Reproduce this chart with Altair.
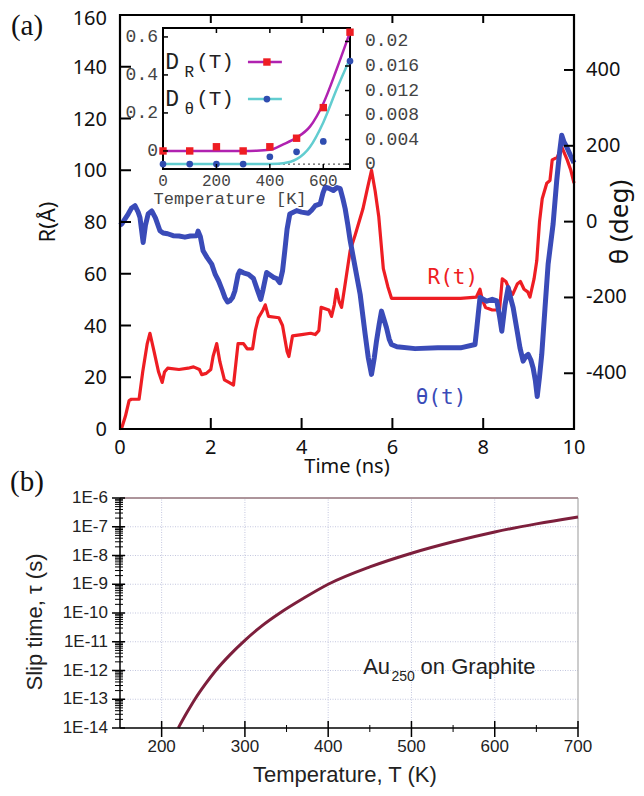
import altair as alt
import pandas as pd

# ---------------- Panel (a): trajectories (time in ns) ----------------
R_trace = [(0.0, 0), (0.04, 0.5), (0.12, 5), (0.2, 11), (0.25, 11.5), (0.42, 11.5), (0.5, 22), (0.6, 33),
           (0.66, 37), (0.75, 30), (0.85, 22), (0.93, 18), (0.98, 22), (1.05, 23.5), (1.3, 23), (1.5, 23.5),
           (1.62, 24), (1.75, 23), (1.8, 21), (1.9, 21.5), (2.0, 23), (2.05, 28), (2.13, 33), (2.2, 26),
           (2.3, 19), (2.4, 18), (2.5, 17), (2.55, 25), (2.6, 33), (2.72, 33), (2.8, 31), (2.92, 31),
           (2.98, 38), (3.05, 43), (3.15, 46), (3.2, 48), (3.27, 43.5), (3.5, 43), (3.58, 40), (3.68, 30),
           (3.72, 28), (3.8, 36), (4.0, 36.5), (4.2, 37), (4.3, 36.5), (4.38, 38), (4.43, 47), (4.6, 46),
           (4.66, 43.5), (4.72, 48), (4.77, 54), (4.83, 49), (4.88, 47), (4.95, 55), (5.07, 69), (5.18, 75),
           (5.35, 85), (5.45, 93), (5.54, 100), (5.62, 92), (5.7, 82), (5.8, 62), (5.9, 55), (5.98, 50.5),
           (6.3, 50.5), (6.7, 50.5), (7.1, 50.5), (7.5, 50.5), (7.85, 51), (7.93, 54), (7.98, 50), (8.05, 47),
           (8.2, 46), (8.36, 46), (8.42, 58), (8.5, 57), (8.6, 53), (8.65, 52), (8.75, 56), (8.82, 57),
           (8.9, 54), (8.98, 53), (9.03, 51), (9.12, 58), (9.18, 65), (9.24, 80), (9.3, 89), (9.4, 95),
           (9.47, 96), (9.52, 104), (9.63, 105), (9.73, 109), (9.85, 104), (9.93, 100), (10.0, 95)]

theta_trace = [(0.0, -10), (0.04, -6), (0.1, 5), (0.18, 20), (0.25, 35), (0.33, 42), (0.4, 25), (0.44, 11),
               (0.51, -55), (0.56, -10), (0.62, 20), (0.7, 28), (0.78, 10), (0.88, -24), (0.95, -30),
               (1.05, -32), (1.17, -37), (1.3, -38), (1.43, -41), (1.55, -38), (1.69, -37), (1.72, -25),
               (1.77, -40), (1.83, -77), (1.92, -95), (2.02, -112), (2.1, -140), (2.17, -156), (2.25, -180),
               (2.31, -200), (2.37, -212), (2.42, -209), (2.48, -200), (2.53, -183), (2.6, -140), (2.64, -130),
               (2.72, -135), (2.83, -139), (2.94, -150), (3.02, -178), (3.1, -205), (3.15, -180), (3.23, -134),
               (3.3, -140), (3.38, -147), (3.45, -150), (3.52, -161), (3.58, -130), (3.63, -77), (3.68, -20),
               (3.74, 20), (3.89, 29), (4.0, 25), (4.15, 22), (4.22, 30), (4.3, 42), (4.41, 47), (4.47, 75),
               (4.52, 91), (4.6, 88), (4.7, 82), (4.78, 90), (4.85, 87), (4.91, 60), (4.96, 34), (5.02, -10),
               (5.07, -50), (5.18, -121), (5.29, -192), (5.4, -297), (5.47, -360), (5.54, -403), (5.6, -360),
               (5.65, -315), (5.71, -270), (5.76, -236), (5.82, -260), (5.87, -280), (5.93, -310), (5.98, -324),
               (6.1, -330), (6.5, -335), (7.0, -333), (7.5, -333), (7.82, -324), (7.86, -280), (7.89, -245),
               (7.93, -200), (8.08, -210), (8.2, -205), (8.3, -209), (8.36, -250), (8.41, -289), (8.48, -220),
               (8.55, -174), (8.6, -200), (8.66, -227), (8.75, -290), (8.81, -333), (8.88, -368), (8.94, -355),
               (8.99, -350), (9.05, -365), (9.1, -386), (9.15, -420), (9.19, -461), (9.24, -410), (9.29, -350),
               (9.36, -230), (9.43, -112), (9.54, -6), (9.62, 109), (9.68, 180), (9.73, 228), (9.78, 210),
               (9.84, 197), (9.92, 175), (10.0, 155)]

R_tick_labels = [0, 20, 40, 60, 80, 100, 120, 140]
R_top_label = [160]
R_inner_ticks = [20, 40, 60, 80, 100, 120, 140]
time_tick_labels = [0, 2, 4, 6, 8, 10]
time_inner_ticks = [2, 4, 6, 8]
theta_tick_labels = [-400, -200, 0, 200, 400]

# ---------------- Inset: diffusion coefficients vs temperature ----------------
inset_T = [0, 100, 200, 300, 400, 500, 600, 700]
inset_DR = [0.0, 0.0, 0.022, 0.0, 0.022, 0.067, 0.228, 0.625]
inset_Dtheta = [0.0, 0.0, 0.0, 0.0, 0.0012, 0.002, 0.0037, 0.0168]
fit_T = [0, 100, 200, 300, 350, 400, 450, 500, 550, 600, 650, 700]
fit_DR = [0.0, 0.0, 0.0, 0.0, 0.001, 0.006, 0.035, 0.07, 0.128, 0.25, 0.43, 0.625]
fit_Dtheta = [0.0, 0.0, 0.0, 0.0, 0.0, 0.00003, 0.00015, 0.0008, 0.0028, 0.0068, 0.0122, 0.0172]
inset_T_labels = [0, 200, 400, 600]
inset_T_ticks = [200, 400, 600]
inset_L_labels = [0, 0.2, 0.4, 0.6]
inset_R_labels = [0, 0.004, 0.008, 0.012, 0.016, 0.02]
inset_R_text = ["0", "0.004", "0.008", "0.012", "0.016", "0.02"]

# ---------------- Panel (b): slip time ----------------
slip_T = [220, 230, 240, 252, 265, 282, 300, 320, 342, 370, 400, 450, 500, 550, 600, 650, 700]
slip_tau = [1e-14, 3.3e-14, 1e-13, 3.2e-13, 1e-12, 3.5e-12, 1.12e-11, 3.5e-11, 1e-10, 3.2e-10, 1e-9,
            4e-9, 1.2e-8, 3e-8, 6.6e-8, 1.26e-7, 2.2e-7]
b_T_major = [200, 300, 400, 500, 600, 700]
b_T_minor = [250, 350, 450, 550, 650]
b_T_grid = [200, 300, 400, 500, 600]
b_exponents = [-6, -7, -8, -9, -10, -11, -12, -13, -14]
b_grid_exponents = [-7, -8, -9, -10, -11, -12, -13]

# ---------------- styling ----------------
RED = "#ee1d23"
BLUE = "#3a4bb8"
MAGENTA = "#b022b0"
CYAN = "#62cdd0"
DOTBLUE = "#2f4db0"
WINE = "#7d1f3c"
GRID = "#c3c6de"
SANS = "Noto Sans"
ARIAL = "Liberation Sans"
MONO = "Liberation Mono"


def S(domain, rng, **kw):
    return alt.Scale(domain=domain, range=rng, nice=False, zero=False, **kw)


AX = S([0, 10], [112, 566])
AYR = S([0, 160], [421, 7])
AYT = S([-547, 545], [421, 7])
IX = S([0, 700], [155, 342])
IYL = S([-0.095, 0.647], [161, 20])
IYR = S([-0.0008, 0.0222], [161, 20])
BX = S([150, 700], [112, 570])
BY = alt.Scale(type="log", domain=[1e-14, 1e-6], range=[720, 490], nice=False)


def enc(sx, sy, fx="x", fy="y"):
    return dict(x=alt.X(f"{fx}:Q", scale=sx, axis=None), y=alt.Y(f"{fy}:Q", scale=sy, axis=None))


def text_layer(xs, ys, labels, sx, sy, **mk):
    d = pd.DataFrame({"x": xs, "y": ys, "label": labels})
    return alt.Chart(d).mark_text(**mk).encode(text="label:N", **enc(sx, sy))


def hticks(xval, yvals, sx, sy, **mk):
    d = pd.DataFrame({"x": [xval] * len(yvals), "y": yvals})
    return alt.Chart(d).mark_rule(**mk).encode(x2=alt.X2("x"), **enc(sx, sy))


def vticks(xvals, yval, sx, sy, **mk):
    d = pd.DataFrame({"x": xvals, "y": [yval] * len(xvals)})
    return alt.Chart(d).mark_rule(**mk).encode(y2=alt.Y2("y"), **enc(sx, sy))


def seg(x0, x1, y0, y1, sx, sy, **mk):
    d = pd.DataFrame({"x": [x0], "x2": [x1], "y": [y0], "y2": [y1]})
    return alt.Chart(d).mark_rule(**mk).encode(x2=alt.X2("x2"), y2=alt.Y2("y2"), **enc(sx, sy))


def ptext(label, px, py, **mk):
    return alt.Chart(pd.DataFrame({"label": [label]})).mark_text(**mk).encode(
        x=alt.value(px), y=alt.value(py), text="label:N")


layers = []

# ======== Panel (a) ========
dfR = pd.DataFrame(R_trace, columns=["x", "y"])
dfT = pd.DataFrame(theta_trace, columns=["x", "y"])
layers.append(alt.Chart(dfR).mark_line(color=RED, strokeWidth=3.2, strokeJoin="round").encode(**enc(AX, AYR)))
layers.append(alt.Chart(dfT).mark_line(color=BLUE, strokeWidth=5, strokeJoin="round").encode(**enc(AX, AYT)))

frameA = pd.DataFrame({"x": [0], "x2": [10], "y": [0], "y2": [160]})
layers.append(alt.Chart(frameA).mark_rect(fillOpacity=0, stroke="black", strokeWidth=2.2).encode(
    x2=alt.X2("x2"), y2=alt.Y2("y2"), **enc(AX, AYR)))
layers.append(hticks(0, R_inner_ticks, AX, AYR, color="black", strokeWidth=2, x2Offset=11))
layers.append(hticks(10, theta_tick_labels, AX, AYT, color="black", strokeWidth=2, x2Offset=-10))
layers.append(vticks(time_inner_ticks, 0, AX, AYR, color="black", strokeWidth=2, y2Offset=-11))
layers.append(vticks(time_inner_ticks, 160, AX, AYR, color="black", strokeWidth=2, y2Offset=8))

layers.append(text_layer([0] * len(R_tick_labels), R_tick_labels, [str(v) for v in R_tick_labels], AX, AYR,
                         font=SANS, fontSize=20, align="right", baseline="middle", dx=-13, dy=1, color="#111"))
layers.append(text_layer([0], R_top_label, [str(v) for v in R_top_label], AX, AYR,
                         font=SANS, fontSize=20, align="right", baseline="middle", dx=-13, dy=4, color="#111"))
layers.append(text_layer(time_tick_labels, [0] * len(time_tick_labels), [str(v) for v in time_tick_labels], AX, AYR,
                         font=SANS, fontSize=20, align="center", baseline="middle", dy=19, color="#111"))
layers.append(text_layer([10] * len(theta_tick_labels), theta_tick_labels, [str(v) for v in theta_tick_labels], AX, AYT,
                         font=SANS, fontSize=20, align="left", baseline="middle", dx=12, color="#111"))
layers.append(text_layer([5], [0], ["Time (ns)"], AX, AYR, font=SANS, fontSize=20, align="center",
                         baseline="middle", dy=38, color="#111"))
layers.append(text_layer([7.33], [58.5], ["R(t)"], AX, AYR, font="DejaVu Sans Mono", fontSize=21,
                         align="center", baseline="middle", color=RED))
layers.append(text_layer([7.07], [-466], ["θ(t)"], AX, AYT, font="DejaVu Sans Mono", fontSize=21,
                         align="center", baseline="middle", color=BLUE))
layers.append(ptext("R(Å)", 40, 214, font=SANS, fontSize=22, angle=270, align="center", baseline="middle", color="#111"))
layers.append(ptext("θ (deg)", 612, 214, font=SANS, fontSize=26, angle=270, align="center", baseline="middle", color="#111"))
layers.append(ptext("(a)", 19, 18, font="Liberation Serif", fontSize=29, align="center", baseline="middle", color="#111"))

# ======== Inset ========
frameI = pd.DataFrame({"x": [0], "x2": [700], "y": [-0.095], "y2": [0.647]})
layers.append(alt.Chart(frameI).mark_rect(fill="white", stroke="black", strokeWidth=2).encode(
    x2=alt.X2("x2"), y2=alt.Y2("y2"), **enc(IX, IYL)))
layers.append(seg(0, 700, 0, 0, IX, IYR, color="#333", strokeWidth=1, strokeDash=[2, 3]))
dfFitR = pd.DataFrame({"x": fit_T, "y": fit_DR})
dfFitT = pd.DataFrame({"x": fit_T, "y": fit_Dtheta})
layers.append(alt.Chart(dfFitR).mark_line(color=MAGENTA, strokeWidth=2.5, interpolate="monotone").encode(**enc(IX, IYL)))
layers.append(alt.Chart(dfFitT).mark_line(color=CYAN, strokeWidth=2.5, interpolate="monotone").encode(**enc(IX, IYR)))
dfPR = pd.DataFrame({"x": inset_T, "y": inset_DR})
dfPT = pd.DataFrame({"x": inset_T, "y": inset_Dtheta})
layers.append(alt.Chart(dfPR).mark_square(color=RED, size=55, opacity=1).encode(**enc(IX, IYL)))
layers.append(alt.Chart(dfPT).mark_circle(color=DOTBLUE, size=45, opacity=1).encode(**enc(IX, IYR)))

layers.append(hticks(0, inset_L_labels, IX, IYL, color="black", strokeWidth=1.5, x2Offset=5))
layers.append(hticks(700, inset_R_labels, IX, IYR, color="black", strokeWidth=1.5, x2Offset=-5))
layers.append(vticks(inset_T_ticks, -0.095, IX, IYL, color="black", strokeWidth=1.5, y2Offset=-5))
layers.append(vticks(inset_T_ticks, 0.647, IX, IYL, color="black", strokeWidth=1.5, y2Offset=5))

layers.append(text_layer([0] * 4, inset_L_labels, ["0", "0.2", "0.4", "0.6"], IX, IYL, font=MONO, fontSize=18,
                         align="right", baseline="middle", dx=-5, color="#444"))
layers.append(text_layer([700] * 6, inset_R_labels, inset_R_text, IX, IYR, font=MONO, fontSize=18,
                         align="left", baseline="middle", dx=15, color="#444"))
layers.append(text_layer(inset_T_labels, [-0.095] * 4, [str(v) for v in inset_T_labels], IX, IYL, font=MONO,
                         fontSize=16, align="center", baseline="middle", dy=12, color="#444"))
layers.append(text_layer([251], [-0.095], ["Temperature [K]"], IX, IYL, font=MONO, fontSize=17,
                         align="center", baseline="middle", dy=30, color="#444"))

# legend of inset
layers.append(text_layer([8, 8], [0.468, 0.273], ["D", "D"], IX, IYL, font=MONO, fontSize=23, align="left",
                         baseline="middle", color="#222"))
layers.append(text_layer([98, 98], [0.468, 0.273], ["R", "θ"], IX, IYL, font=MONO, fontSize=16, align="center",
                         baseline="middle", dy=10, color="#222"))
layers.append(text_layer([124, 124], [0.468, 0.273], ["(T)", "(T)"], IX, IYL, font=MONO, fontSize=21, align="left",
                         baseline="middle", color="#222"))
layers.append(seg(318, 445, 0.468, 0.468, IX, IYL, color=MAGENTA, strokeWidth=2.5))
layers.append(seg(318, 445, 0.273, 0.273, IX, IYL, color=CYAN, strokeWidth=2.5))
layers.append(alt.Chart(pd.DataFrame({"x": [389], "y": [0.468]})).mark_square(color=RED, size=55, opacity=1).encode(**enc(IX, IYL)))
layers.append(alt.Chart(pd.DataFrame({"x": [389], "y": [0.273]})).mark_circle(color=DOTBLUE, size=45, opacity=1).encode(**enc(IX, IYL)))

# ======== Panel (b) ========
for T in b_T_grid:
    layers.append(seg(T, T, 1e-14, 1e-6, BX, BY, color=GRID, strokeWidth=1, strokeDash=[1, 1.5]))
for e in b_grid_exponents:
    layers.append(seg(150, 700, 10.0 ** e, 10.0 ** e, BX, BY, color=GRID, strokeWidth=1, strokeDash=[1, 1.5]))
layers.append(seg(150, 700, 1e-6, 1e-6, BX, BY, color="#5a2a36", strokeWidth=1))
layers.append(seg(700, 700, 1e-14, 1e-6, BX, BY, color="#999999", strokeWidth=1))

dfS = pd.DataFrame({"x": slip_T, "y": slip_tau})
layers.append(alt.Chart(dfS).mark_line(color=WINE, strokeWidth=3, interpolate="monotone").encode(**enc(BX, BY)))

layers.append(seg(150, 150, 1e-14, 1e-6, BX, BY, color="black", strokeWidth=1.5))
layers.append(seg(150, 700, 1e-14, 1e-14, BX, BY, color="black", strokeWidth=1.5))
major_y = [10.0 ** e for e in b_exponents]
minor_y = [m * 10.0 ** e for e in b_exponents[1:] for m in range(2, 10)]
layers.append(hticks(150, major_y, BX, BY, color="black", strokeWidth=1.5, xOffset=-8, x2Offset=5))
layers.append(hticks(150, minor_y, BX, BY, color="black", strokeWidth=1, xOffset=-5, x2Offset=3))
layers.append(vticks(b_T_major, 1e-14, BX, BY, color="black", strokeWidth=1.5, yOffset=-7, y2Offset=9))
layers.append(vticks(b_T_minor, 1e-14, BX, BY, color="black", strokeWidth=1, yOffset=-3, y2Offset=4))

layers.append(text_layer([150] * 9, major_y, [f"1E{e}" for e in b_exponents], BX, BY, font=ARIAL, fontSize=17,
                         align="right", baseline="middle", dx=-12, color="#222"))
layers.append(text_layer(b_T_major, [1e-14] * 6, [str(v) for v in b_T_major], BX, BY, font=ARIAL, fontSize=17,
                         align="center", baseline="middle", dy=19, color="#222"))
layers.append(text_layer([420], [1e-14], ["Temperature, T (K)"], BX, BY, font=ARIAL, fontSize=22,
                         align="center", baseline="middle", dy=47, color="#222"))
layers.append(text_layer([442], [1.3e-12], ["Au"], BX, BY, font=ARIAL, fontSize=22, align="left",
                         baseline="middle", color="#222"))
layers.append(text_layer([476], [1.3e-12], ["250"], BX, BY, font=ARIAL, fontSize=14, align="left",
                         baseline="middle", dy=10, color="#222"))
layers.append(text_layer([511], [1.3e-12], ["on Graphite"], BX, BY, font=ARIAL, fontSize=22, align="left",
                         baseline="middle", color="#222"))
layers.append(ptext("Slip time, τ (s)", 27, 614, font=ARIAL, fontSize=22, angle=270, align="center",
                    baseline="middle", color="#222"))
layers.append(ptext("(b)", 19, 474, font="Liberation Serif", fontSize=29, align="center", baseline="middle", color="#111"))

chart = alt.layer(*layers).resolve_scale(x="independent", y="independent").properties(
    width=628, height=780, padding=0, autosize=alt.AutoSizeParams(type="none")
).configure_view(stroke=None)

chart.save("out.html", embed_options={"renderer": "svg", "actions": False})
